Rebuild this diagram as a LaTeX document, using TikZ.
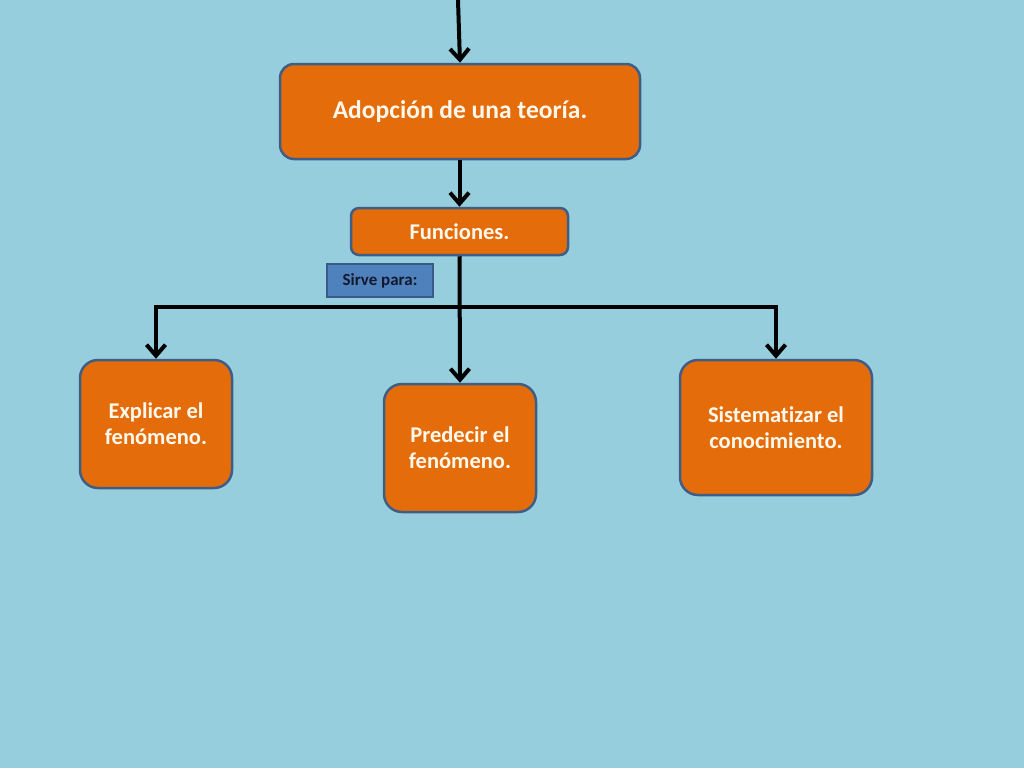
\documentclass[tikz,border=0pt]{standalone}
\usepackage{fontspec}
\setmainfont[Ligatures=NoCommon]{Carlito}
\usetikzlibrary{arrows.meta}
\definecolor{sky}{RGB}{150,206,221}
\definecolor{boxorange}{RGB}{228,108,10}
\definecolor{boxedge}{RGB}{62,94,136}
\definecolor{tagblue}{RGB}{79,129,189}
\definecolor{tagedge}{RGB}{56,90,135}
\definecolor{cream}{RGB}{255,248,236}
\definecolor{navy}{RGB}{20,25,45}
\begin{document}
\begin{tikzpicture}[x=1pt,y=-1pt,
  card/.style={draw=boxedge,line width=2.5pt,fill=boxorange,text=cream,inner sep=0pt,
    align=center,font=\bfseries\fontsize{22.5}{26}\selectfont},
  link/.style={line width=4pt,-{Straight Barb[length=11pt,width=19pt]}}]
\useasboundingbox (0,0) rectangle (1024,768);
\fill[sky] (0,0) rectangle (1024,768);
% top level
\coordinate (top) at (458,0);
\node[card,rounded corners=14pt,minimum width=360pt,minimum height=95pt,
  font=\bfseries\fontsize{25.5}{30}\selectfont] (theory) at (460,111.5) {Adopción de una teoría.};
\node[card,rounded corners=8pt,minimum width=217pt,minimum height=47pt] (func) at (459.5,231.5) {Funciones.};
\node[draw=tagedge,line width=2pt,fill=tagblue,text=navy,inner sep=0pt,minimum width=106pt,minimum height=33pt,
  font=\bfseries\fontsize{17}{19}\selectfont] (tag) at (380,280.5) {Sirve para:};
% the three functions
\node[card,rounded corners=18pt,minimum width=152pt,minimum height=128pt] (explain) at (156,424) {Explicar el\\fenómeno.};
\node[card,rounded corners=18pt,minimum width=152pt,minimum height=128pt] (predict) at (460,448) {Predecir el\\fenómeno.};
\node[card,rounded corners=18pt,minimum width=192pt,minimum height=135pt] (system) at (776,427.5) {Sistematizar el\\conocimiento.};
\coordinate (bar) at (459,307);
\draw[link] (top) -- (theory.north);
\draw[link] (theory.south -| func.north) -- (func.north);
\draw[link] (func.south) -- (predict.north);
\draw[link] (bar) -| (explain.north);
\draw[link] (bar) -| (system.north);
\end{tikzpicture}
\end{document}
